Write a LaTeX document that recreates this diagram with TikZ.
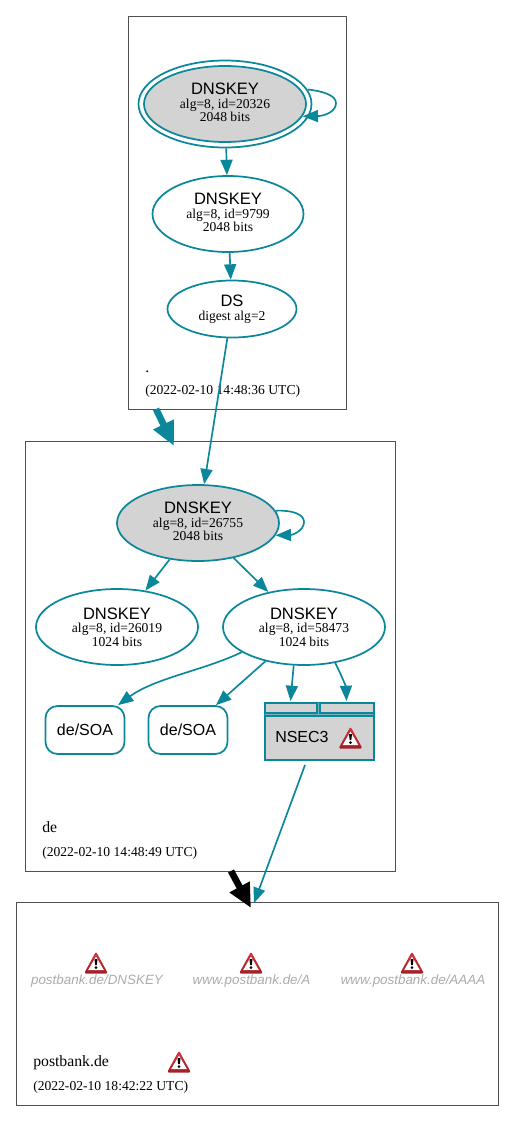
\documentclass[tikz,border=0pt]{standalone}
\usepackage{fontspec}
\setmainfont{Liberation Serif}
\newfontfamily\lsans{Liberation Sans}
\usetikzlibrary{shapes.geometric,arrows.meta}
\definecolor{teal1}{HTML}{0A879A}
\definecolor{fillg}{HTML}{D3D3D3}
\definecolor{edgeg}{HTML}{505050}
\definecolor{warnr}{HTML}{D8343A}
\definecolor{warnd}{HTML}{A01F26}
\newcommand{\ttl}{\lsans\fontsize{12.4}{13}\selectfont}
\newcommand{\sml}{\fontsize{10.2}{10.4}\selectfont}
\tikzset{
  x=0.75pt,y=-0.75pt,
  cluster/.style={draw=edgeg,line width=0.55pt,fill=none,inner sep=0pt,anchor=north west},
  key/.style={ellipse,draw=teal1,line width=1.3pt,inner sep=0pt,align=center,minimum width=#1*0.75pt},
  key/.default=150,
  fillkey/.style={fill=fillg},
  lift/.style={text depth=2.6pt},
  edge1/.style={draw=teal1,line width=1.25pt,-{Stealth[length=11.5pt,width=9pt,inset=0pt]}},
  thick1/.style={line width=#1,-{Stealth[length=18pt,width=16pt,inset=0pt]}},
  soa/.style={draw=teal1,line width=1.3pt,rounded corners=9pt,inner sep=0pt,font=\lsans\fontsize{12}{13}\selectfont},
  lbl/.style={anchor=base west,inner sep=0pt},
  faded/.style={inner sep=0pt,text=black!33,font=\lsans\itshape\fontsize{10.05}{12}\selectfont},
}
% warning icon, centred at #1
\newcommand{\warnicon}[1]{%
  \begin{scope}[shift={(#1)}]
    \shade[top color=warnr,bottom color=warnd,rounded corners=1.2pt] (0,-11.5) -- (12,10.5) -- (-12,10.5) -- cycle;
    \fill[white] (0,-6.5) -- (7.8,7) -- (-7.8,7) -- cycle;
    \fill[black] (-1.5,-3.8) -- (1.5,-3.8) -- (0.8,2.2) -- (-0.8,2.2) -- cycle;
    \fill[black] (0,4.6) circle (1.4);
  \end{scope}}
\begin{document}
\begin{tikzpicture}
\useasboundingbox (0,0) rectangle (515,1121);
% clusters
\node[cluster,minimum width=218*0.75pt,minimum height=393*0.75pt] (c1) at (128,16) {};
\node[cluster,minimum width=370*0.75pt,minimum height=430*0.75pt] (c2) at (25,441) {};
\node[cluster,minimum width=482*0.75pt,minimum height=203*0.75pt] (c3) at (16,902) {};
% root zone
\node[ellipse,draw=teal1,line width=1.3pt,inner sep=0pt,minimum width=173*0.75pt,minimum height=87*0.75pt] (k0o) at (225,104) {};
\node[key=162,fillkey,lift,minimum height=76*0.75pt] (k0) at (225,104) {{\ttl DNSKEY}\\[-1.8pt]{\sml alg=8, id=20326}\\[-1.8pt]{\sml 2048 bits}};
\node[key=151,lift,minimum height=76*0.75pt] (k1) at (228,214) {{\ttl DNSKEY}\\[-1.8pt]{\sml alg=8, id=9799}\\[-1.8pt]{\sml 2048 bits}};
\node[key=129,minimum height=57*0.75pt] (ds) at (232,309) {{\ttl DS}\\[-1.8pt]{\sml digest alg=2}};
\node[lbl,font=\fontsize{11.8}{12}\selectfont] (l0) at (145,372) {.};
\node[lbl,font=\fontsize{10.2}{12}\selectfont] (t0) at (145,394) {(2022-02-10 14:48:36 UTC)};
% de zone
\node[key=162,fillkey,lift,minimum height=76*0.75pt] (k2) at (198,523) {{\ttl DNSKEY}\\[-1.8pt]{\sml alg=8, id=26755}\\[-1.8pt]{\sml 2048 bits}};
\node[key=162,minimum height=76*0.75pt] (k3) at (117,627) {{\ttl DNSKEY}\\[-1.8pt]{\sml alg=8, id=26019}\\[-1.8pt]{\sml 1024 bits}};
\node[key=162,minimum height=76*0.75pt] (k4) at (304,627) {{\ttl DNSKEY}\\[-1.8pt]{\sml alg=8, id=58473}\\[-1.8pt]{\sml 1024 bits}};
\node[soa,minimum width=79*0.75pt,minimum height=48*0.75pt] (s1) at (85,730) {de/SOA};
\node[soa,minimum width=79*0.75pt,minimum height=48*0.75pt] (s2) at (188,730) {de/SOA};
% NSEC3 record
\node[draw=teal1,line width=1.5pt,fill=fillg,inner sep=0pt,anchor=north west,minimum width=109*0.75pt,minimum height=57*0.75pt] (n3) at (264,702) {};
\coordinate (n3a) at (290.5,701);
\coordinate (n3b) at (346.5,701);
\draw[teal1,line width=3.4pt] (n3.west |- 0,714.5) -- (n3.east |- 0,714.5);
\draw[teal1,line width=3.4pt] (318.5,702) -- (318.5,714.5);
\draw[teal1!45!fillg,line width=0.6pt] (265,714.5) -- (373,714.5);
\draw[teal1!45!fillg,line width=0.6pt] (318.5,703) -- (318.5,714);
\node[inner sep=0pt,font=\lsans\fontsize{12}{13}\selectfont,anchor=base west] (n3t) at (275,742) {NSEC3};
\warnicon{350.5,738}
\node[lbl,font=\fontsize{11.8}{12}\selectfont] (l1) at (42,832) {de};
\node[lbl,font=\fontsize{10.2}{12}\selectfont] (t1) at (42,856) {(2022-02-10 14:48:49 UTC)};
% postbank zone
\warnicon{96,963}
\warnicon{251,963}
\warnicon{412,963}
\node[faded] (p1) at (97,981) {postbank.de/DNSKEY};
\node[faded] (p2) at (251.5,981) {www.postbank.de/A};
\node[faded] (p3) at (413,981) {www.postbank.de/AAAA};
\node[lbl,font=\fontsize{11.8}{12}\selectfont] (l2) at (33,1066) {postbank.de};
\warnicon{179,1062}
\node[lbl,font=\fontsize{10.2}{12}\selectfont] (t2) at (33,1090) {(2022-02-10 18:42:22 UTC)};
% edges
\draw[edge1] (k0o) -- (k1);
\draw[edge1] (k1) -- (ds);
\draw[edge1] (ds) -- (k2);
\draw[edge1] (k2) -- (k3);
\draw[edge1] (k2) -- (k4);
% self loops
\draw[edge1] (k0o.10) .. controls (322,91) and (336,95) .. (336,103) .. controls (336,112) and (324,116) .. (k0.-9);
\draw[edge1] (k2.9) .. controls (292,510) and (304,514) .. (304,522) .. controls (304,531) and (292,535) .. (k2.-9);
% DNSKEY 58473 outgoing
\draw[edge1] (k4.-158) .. controls (205,670) and (155,678) .. (s1.37);
\draw[edge1] (k4) -- (s2);
\draw[edge1] (k4.-105) -- (n3a);
\draw[edge1] (k4.-49) .. controls (340,672) and (346,687) .. (n3b);
% NSEC3 to postbank zone
\coordinate (n3o) at (305,765);
\coordinate (p0) at (254,903);
\draw[edge1] (n3o) -- (p0);
% zone delegation arrows
\coordinate (d0a) at (156,409);
\coordinate (d0b) at (174,446);
\draw[teal1,thick1=5pt] (d0a) -- (d0b);
\coordinate (d1a) at (231,871);
\coordinate (d1b) at (251,908);
\draw[black,thick1=5pt] (d1a) -- (d1b);
\end{tikzpicture}
\end{document}
